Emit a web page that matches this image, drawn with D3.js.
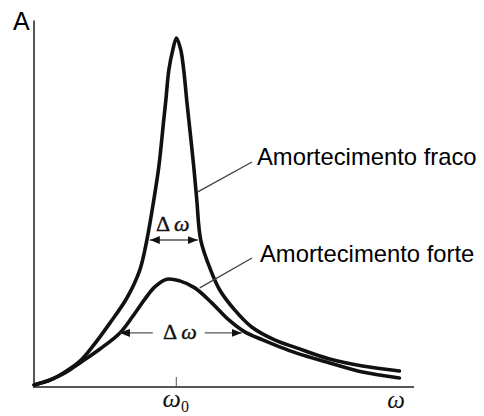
<!DOCTYPE html>
<html lang="pt">
<head>
<meta charset="UTF-8">
<title>Ressonância</title>
<script src="https://d3js.org/d3.v7.min.js"></script>
<style>
    body { margin: 0; background: #fff; }
    svg { display: block; }
    .curve { fill: none; stroke: #111; stroke-width: 3.6px; stroke-linejoin: round; stroke-linecap: round; }
    .axis path, .axis line { stroke: #555; }
    .axis path { stroke-width: 2px; }
    .axis line { stroke-width: 1px; }
    .label { font-family: "Liberation Sans", Arial, sans-serif; fill: #000; }
    .greek { font-family: "Liberation Serif", "Times New Roman", serif; fill: #111; }
    .delta { stroke: #111; stroke-width: 0.4px; }
    .leader { stroke: #444; stroke-width: 1.4px; }
    .band { stroke: #555; stroke-width: 1.4px; }
</style>
</head>
<body>
<script>
// curve samples (omega in units of omega0, A arbitrary)
const omegaWeak = [0, 0.113, 0.218, 0.324, 0.415, 0.535, 0.655, 0.746, 0.796, 0.845, 0.880, 0.915, 0.930, 0.951, 0.979, 1.005,
                   1.035, 1.056, 1.077, 1.092, 1.127, 1.148, 1.176, 1.246, 1.310, 1.415, 1.535, 1.697, 1.852, 2.085, 2.317, 2.577];
const ampWeak   = [0.06, 0.20, 0.43, 0.74, 1.17, 1.83, 2.55, 3.35, 4.21, 5.36, 6.30, 7.65, 8.22, 9.08, 9.66, 10.0,
                   9.66, 9.08, 8.22, 7.65, 6.30, 5.36, 4.21, 3.35, 2.78, 2.21, 1.72, 1.35, 1.12, 0.80, 0.60, 0.46];

const omegaStrong = [0, 0.113, 0.218, 0.324, 0.465, 0.606, 0.697, 0.782, 0.852, 0.937, 1.028, 1.134, 1.254, 1.366, 1.486,
                     1.613, 1.732, 1.852, 2.085, 2.317, 2.577];
const ampStrong   = [0.06, 0.20, 0.40, 0.69, 1.09, 1.55, 2.03, 2.52, 2.87, 3.09, 3.04, 2.84, 2.41, 1.95, 1.58,
                     1.35, 1.15, 0.97, 0.69, 0.43, 0.26];

// half-width bands: amplitude level, left and right omega
const bandLevel = [4.21, 1.55];
const bandLeft  = [0.817, 0.606];
const bandRight = [1.155, 1.465];

const curveNames = ["Amortecimento fraco", "Amortecimento forte"];
// point on each curve where the leader line ends
const leaderOmega = [1.155, 1.169];
const leaderAmp   = [5.59, 2.84];

const width = 484, height = 416;

const svg = d3.select("body").append("svg")
    .attr("width", width)
    .attr("height", height);

const x = d3.scaleLinear().domain([0, 2.68]).range([34, 414]);
const y = d3.scaleLinear().domain([0, 10.5]).range([387, 20.5]);

// arrow head
svg.append("defs").append("marker")
    .attr("id", "head")
    .attr("viewBox", "0 0 10 8")
    .attr("refX", 10).attr("refY", 4)
    .attr("markerWidth", 10).attr("markerHeight", 8)
    .attr("markerUnits", "userSpaceOnUse")
    .attr("orient", "auto-start-reverse")
    .append("path")
    .attr("d", "M0,0L10,4L0,8Z")
    .attr("fill", "#111");

// axes
svg.append("g")
    .attr("class", "axis")
    .attr("transform", `translate(0,${y(0)})`)
    .call(d3.axisBottom(x).tickValues([1]).tickSize(-10).tickSizeOuter(0).tickFormat(""))
    .call(g => g.select(".domain").attr("d", `M${x(0) - 1},0H${x(2.68)}`));

svg.append("g")
    .attr("class", "axis")
    .attr("transform", `translate(${x(0)},0)`)
    .call(d3.axisLeft(y).tickValues([]).tickSizeOuter(0))
    .call(g => g.select(".domain").attr("d", `M0,${y(0)}V${y(10.5)}`));

// curves
const line = d3.line()
    .x(d => x(d[0]))
    .y(d => y(d[1]))
    .curve(d3.curveCatmullRom.alpha(0.5));

svg.append("path").attr("class", "curve")
    .attr("d", line(d3.zip(omegaStrong, ampStrong)));
svg.append("path").attr("class", "curve")
    .attr("d", line(d3.zip(omegaWeak, ampWeak)));

// axis labels
svg.append("text").attr("class", "label")
    .attr("x", 13).attr("y", 30)
    .style("font-size", "25px")
    .text("A");

const w0 = svg.append("text").attr("class", "greek")
    .attr("x", x(1)).attr("y", 407)
    .attr("text-anchor", "middle")
    .style("font-size", "26px");
w0.append("tspan").style("font-style", "italic").text("ω");
w0.append("tspan").attr("dy", 5).style("font-size", "16px").text("0");

svg.append("text").attr("class", "greek")
    .attr("x", 396).attr("y", 408)
    .attr("text-anchor", "middle")
    .style("font-size", "25px")
    .style("font-style", "italic")
    .text("ω");

// delta omega bands
bandLevel.forEach((a, i) => {
    const yy = y(a);
    const xl = x(bandLeft[i]), xr = x(bandRight[i]);
    const mid = (xl + xr) / 2;
    if (i === 0) {
        svg.append("line").attr("class", "band")
            .attr("x1", xl).attr("x2", xr).attr("y1", yy).attr("y2", yy)
            .attr("marker-start", "url(#head)")
            .attr("marker-end", "url(#head)");
        drawDelta(mid - 1, yy - 9);
    } else {
        svg.append("line").attr("class", "band")
            .attr("x1", mid - 28).attr("x2", xl).attr("y1", yy).attr("y2", yy)
            .attr("marker-end", "url(#head)");
        svg.append("line").attr("class", "band")
            .attr("x1", mid + 24).attr("x2", xr).attr("y1", yy).attr("y2", yy)
            .attr("marker-end", "url(#head)");
        drawDelta(mid - 1, yy + 6);
    }
});

function drawDelta(cx, base) {
    const t = svg.append("text").attr("class", "greek delta")
        .attr("x", cx).attr("y", base)
        .attr("text-anchor", "middle")
        .style("font-size", "22px");
    t.append("tspan").text("Δ");
    t.append("tspan").attr("dx", 4).style("font-style", "italic").text("ω");
}

// curve names with leader lines
const nameX = [257, 260], nameY = [165, 262], lineStart = [[252, 162], [252, 258]];
curveNames.forEach((name, i) => {
    svg.append("line").attr("class", "leader")
        .attr("x1", lineStart[i][0]).attr("y1", lineStart[i][1])
        .attr("x2", x(leaderOmega[i])).attr("y2", y(leaderAmp[i]));
    svg.append("text").attr("class", "label")
        .attr("x", nameX[i]).attr("y", nameY[i])
        .style("font-size", "23.8px")
        .text(name);
});
</script>
</body>
</html>
